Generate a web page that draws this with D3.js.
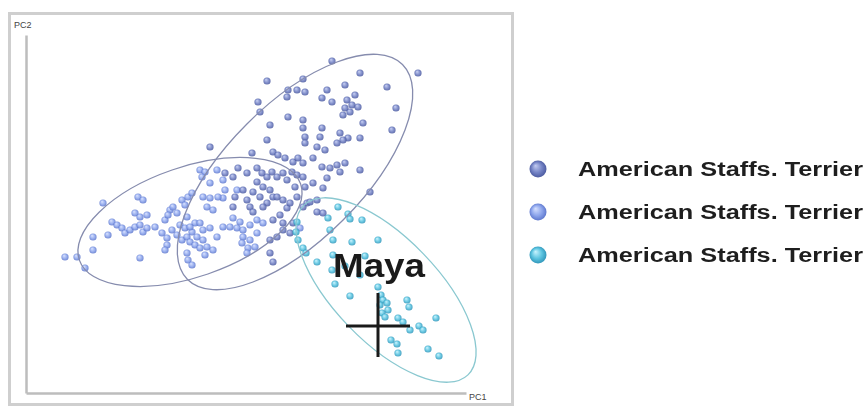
<!DOCTYPE html>
<html>
<head>
<meta charset="utf-8">
<script src="https://cdn.jsdelivr.net/npm/d3@7"></script>
<style>
  html, body { margin: 0; padding: 0; background: #fff; }
  svg { display: block; }
</style>
</head>
<body>
<svg id="chart" width="864" height="407"></svg>
<script>
// PCA scores (PC1, PC2) for the three groups
const groupNames = ["American Staffs. Terrier", "American Staffs. Terrier", "American Staffs. Terrier"];

const scoresA = [
  [0.86,1.53],[1.14,1.41],[1.72,1.41],[0.21,1.33],[0.57,1.35],[0.42,1.24],[0.51,1.24],[0.59,1.22],
  [0.41,1.17],[0.99,1.29],[0.81,1.24],[1.41,1.27],[1.09,1.19],[1.01,1.14],[1.06,1.09],[1.12,1.07],
  [0.99,1.06],[1.04,1.02],[0.97,0.99],[0.76,1.16],[0.86,1.12],[1.50,1.06],[0.12,1.12],[0.14,1.02],
  [0.42,0.97],[0.57,0.94],[0.57,0.86],[0.59,0.77],[0.59,0.71],[0.76,0.86],[0.74,0.77],[0.94,0.81],
  [1.02,0.76],[0.97,0.74],[1.14,0.76],[0.91,0.71],[1.17,0.91],[1.46,0.84],[0.24,0.89],[0.21,0.74],
  [0.71,0.67],[0.79,0.64],[0.06,0.61],[0.27,0.62],[0.32,0.59],[0.39,0.56],[0.47,0.52],[0.52,0.56],
  [0.57,0.51],[0.67,0.56],[0.76,0.47],[0.84,0.46],[0.91,0.49],[0.99,0.51],[0.94,0.42],[1.14,0.44],
  [1.24,0.22],[-0.21,0.41],[-0.13,0.37],[-0.08,0.46],[0.01,0.41],[0.11,0.46],[0.16,0.41],[0.21,0.37],
  [0.26,0.42],[0.31,0.37],[0.37,0.41],[0.41,0.34],[0.46,0.42],[0.51,0.39],[0.57,0.37],[0.59,0.27],
  [0.67,0.31],[0.77,0.26],[0.81,0.36],[0.49,0.27],[0.11,0.32],[0.17,0.27],[0.24,0.24],[0.07,0.22],
  [0.14,0.17],[0.21,0.11],[0.27,0.17],[-0.03,0.24],[0.01,0.14],[0.04,0.07],[-0.11,0.17],[-0.13,0.07],
  [0.61,0.11],[0.71,0.14],[0.37,0.14],[0.41,0.06],[0.64,0.12],[0.71,0.02],[0.77,0.01],[0.31,0.17],
  [0.44,0.11],[0.51,0.17],[0.57,0.07],[0.34,-0.01],[0.27,-0.06],[0.17,0.07],[0.07,0.02],[0.24,-0.26],
  [0.31,-0.23],[0.37,-0.16],[0.44,-0.19],[0.37,-0.09],[0.47,-0.09],[0.24,-0.39],[0.27,-0.48],[-0.36,0.67]
];

const scoresB = [
  [-1.43,0.11],[-1.08,0.17],[-1.03,0.14],[-1.11,0.01],[-1.06,-0.03],[-0.99,-0.01],[-1.34,-0.08],
  [-1.29,-0.11],[-1.24,-0.14],[-1.21,-0.19],[-1.16,-0.16],[-1.11,-0.13],[-1.06,-0.11],[-1.03,-0.18],
  [-0.99,-0.14],[-1.38,-0.21],[-1.53,-0.23],[-1.53,-0.36],[-1.81,-0.43],[-1.69,-0.43],[-1.61,-0.54],
  [-1.06,-0.44],[-0.91,-0.13],[-0.81,-0.06],[-0.76,0.04],[-0.73,0.07],[-0.78,-0.01],[-0.69,0.01],
  [-0.84,-0.19],[-0.79,-0.24],[-0.74,-0.16],[-0.69,-0.21],[-0.66,-0.11],[-0.61,-0.14],[-0.64,-0.26],
  [-0.59,-0.23],[-0.54,-0.18],[-0.51,-0.09],[-0.56,-0.28],[-0.51,-0.31],[-0.79,-0.31],[-0.81,-0.36],
  [-0.59,-0.39],[-0.58,-0.46],[-0.54,-0.51],[-0.64,0.14],[-0.58,0.17],[-0.54,0.21],[-0.46,0.44],
  [-0.41,0.42],[-0.44,0.37],[-0.29,0.44],[-0.36,0.31],[-0.23,0.34],[-0.21,0.24],[-0.23,0.16],
  [-0.28,0.17],[-0.43,0.17],[-0.36,0.16],[-0.39,0.07],[-0.33,0.04],[-0.61,0.09],[-0.59,-0.03],
  [-0.56,-0.13],[-0.46,-0.09],[-0.43,-0.16],[-0.36,-0.14],[-0.49,-0.23],[-0.43,-0.26],[-0.39,-0.33],
  [-0.46,-0.34],[-0.29,-0.23],[-0.23,-0.13],[-0.33,-0.36],[-0.41,-0.41],[-0.13,-0.04],[-0.06,-0.08],
  [-0.16,-0.13],[-0.09,-0.14],[-0.03,-0.16],[0.04,-0.11],[0.11,-0.06],[0.17,-0.09],[-0.03,-0.23],
  [0.04,-0.26],[0.11,-0.19],[-0.04,-0.29],[0.02,-0.34],[0.09,-0.33],[0.01,-0.39],[-0.09,0.24],
  [0.54,-0.14]
];

const scoresC = [
  [0.51,-0.08],[0.50,-0.18],[0.52,-0.26],[0.57,-0.34],[0.60,-0.39],[0.82,-0.04],[1.02,0.00],
  [1.04,-0.05],[1.16,-0.06],[0.84,-0.16],[0.87,-0.26],[1.06,-0.28],[1.32,-0.26],[0.71,-0.48],
  [0.86,-0.56],[0.89,-0.70],[1.04,-0.82],[1.32,-0.73],[1.35,-0.81],[1.37,-0.86],[1.41,-0.89],
  [1.34,-0.91],[1.42,-0.96],[1.36,-0.99],[1.39,-1.03],[1.61,-0.86],[1.63,-0.93],[1.52,-1.04],
  [1.57,-1.08],[1.64,-1.16],[1.73,-1.12],[1.77,-1.16],[1.90,-1.04],[1.45,-1.26],[1.51,-1.30],
  [1.52,-1.39],[1.82,-1.35],[1.93,-1.42],[0.87,-0.41],[1.19,-0.42],[0.92,0.07],[0.99,-0.52],
  [1.14,-0.61]
];

// Confidence ellipses: centre (PC1, PC2), semi-axes, rotation in degrees
const ellipseCenters = [[-0.56,-0.08],[0.49,0.42],[1.40,-0.76]];
const ellipseAxes = [[1.17,0.55],[1.52,0.68],[1.18,0.52]];
const ellipseAngles = [19, 45, -46];

// Highlighted individual
const markerName = "Maya";
const markerScore = [1.32, -1.12];

const axisLabels = ["PC1", "PC2"];

const svg = d3.select("#chart");
const font = "'Liberation Sans', Arial, sans-serif";

const x = d3.scaleLinear().domain([-2.2, 2.2]).range([26, 466]);
const y = d3.scaleLinear().domain([-1.79, 1.79]).range([393, 35]);
const unit = x(1) - x(0);

// sphere-like gradients for the markers
const palettes = [
  {id: "gA", hi: "#c3ccf2", mid: "#7584c6", lo: "#45549a"},
  {id: "gB", hi: "#d6e0ff", mid: "#8ea6ec", lo: "#5670c8"},
  {id: "gC", hi: "#c8f4ff", mid: "#5cc4e0", lo: "#2a8fb4"}
];
const defs = svg.append("defs");
palettes.forEach(p => {
  const g = defs.append("radialGradient").attr("id", p.id)
    .attr("cx", "50%").attr("cy", "50%").attr("r", "55%")
    .attr("fx", "35%").attr("fy", "30%");
  g.append("stop").attr("offset", "0%").attr("stop-color", p.hi);
  g.append("stop").attr("offset", "55%").attr("stop-color", p.mid);
  g.append("stop").attr("offset", "100%").attr("stop-color", p.lo);
});
const soft = defs.append("filter").attr("id", "soft");
soft.append("feGaussianBlur").attr("stdDeviation", 0.35);

// outer frame
svg.append("rect")
  .attr("x", 9.5).attr("y", 13.5).attr("width", 503).attr("height", 391)
  .attr("fill", "#fff").attr("stroke", "#cfcfcf").attr("stroke-width", 3);

// axes drawn as plain lines without ticks
const xAxis = d3.axisBottom(x).tickValues([]).tickSizeOuter(0);
const yAxis = d3.axisLeft(y).tickValues([]).tickSizeOuter(0);
svg.append("g").attr("transform", `translate(0,${y(-1.79)})`).call(xAxis)
  .select(".domain").attr("stroke", "#bdbdbd").attr("stroke-width", 2.5);
svg.append("g").attr("transform", `translate(${x(-2.2)},0)`).call(yAxis)
  .select(".domain").attr("stroke", "#bdbdbd").attr("stroke-width", 2.5);

svg.append("text").attr("x", x(2.2) + 3).attr("y", y(-1.79) + 7)
  .attr("font-family", font).attr("font-size", 9).attr("fill", "#444")
  .text(axisLabels[0]);
svg.append("text").attr("x", 14).attr("y", 28)
  .attr("font-family", font).attr("font-size", 9).attr("fill", "#444")
  .text(axisLabels[1]);

const plot = svg.append("g").attr("filter", "url(#soft)");

// points
[scoresB, scoresA, scoresC].forEach((set, i) => {
  const pal = [palettes[1], palettes[0], palettes[2]][i];
  plot.append("g").selectAll("circle").data(set).join("circle")
    .attr("cx", d => x(d[0])).attr("cy", d => y(d[1]))
    .attr("r", 3.6)
    .attr("fill", `url(#${pal.id})`)
    .attr("opacity", 0.88);
});

// ellipses
const ellipseStroke = ["#868cae", "#868cae", "#8ac8d0"];
ellipseCenters.forEach((c, i) => {
  plot.append("ellipse")
    .attr("transform", `translate(${x(c[0])},${y(c[1])}) rotate(${-ellipseAngles[i]})`)
    .attr("rx", ellipseAxes[i][0] * unit).attr("ry", ellipseAxes[i][1] * unit)
    .attr("fill", "none").attr("stroke", ellipseStroke[i]).attr("stroke-width", 1.3);
});

// marker cross and name
const mx = x(markerScore[0]), my = y(markerScore[1]);
svg.append("line").attr("x1", mx - 32).attr("x2", mx + 32).attr("y1", my).attr("y2", my)
  .attr("stroke", "#1a1a1a").attr("stroke-width", 3);
svg.append("line").attr("x1", mx).attr("x2", mx).attr("y1", my - 33).attr("y2", my + 31)
  .attr("stroke", "#1a1a1a").attr("stroke-width", 3);
svg.append("text").attr("x", mx + 1).attr("y", my - 49)
  .attr("text-anchor", "middle")
  .attr("font-family", font).attr("font-weight", "bold").attr("font-size", 34)
  .attr("fill", "#1a1a1a")
  .attr("textLength", 92).attr("lengthAdjust", "spacingAndGlyphs")
  .text(markerName);

// legend
const legendY = [169, 212, 255];
const legendFill = ["gA", "gB", "gC"];
const legend = svg.append("g");
groupNames.forEach((name, i) => {
  legend.append("circle").attr("cx", 538).attr("cy", legendY[i]).attr("r", 8.5)
    .attr("fill", `url(#${legendFill[i]})`);
  legend.append("text").attr("x", 578).attr("y", legendY[i] + 7)
    .attr("font-family", font).attr("font-weight", "bold").attr("font-size", 20)
    .attr("fill", "#1e1e1e")
    .attr("textLength", 285).attr("lengthAdjust", "spacingAndGlyphs")
    .text(name);
});
</script>
</body>
</html>
